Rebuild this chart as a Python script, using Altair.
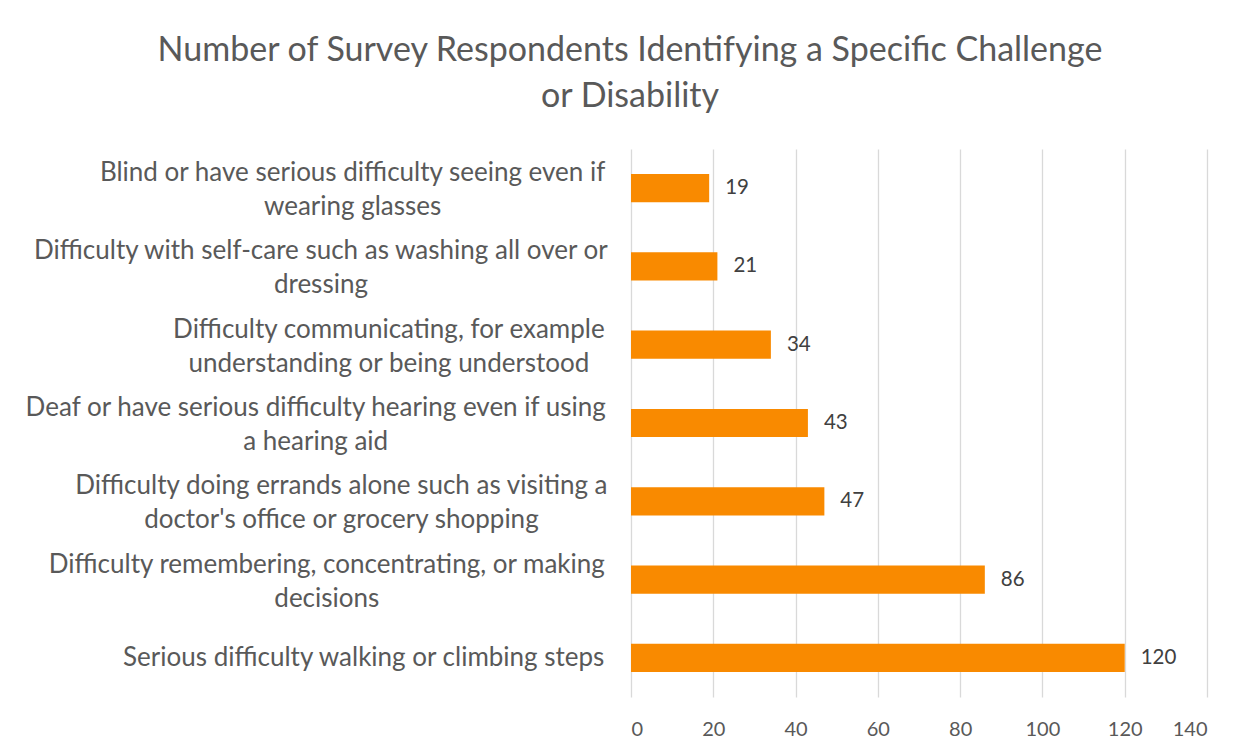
import json
import altair as alt
import pandas as pd

# ---- data ----
categories = [
    "Blind or have serious difficulty seeing even if|wearing glasses",
    "Difficulty with self-care such as washing all over or|dressing",
    "Difficulty communicating, for example|understanding or being understood",
    "Deaf or have serious difficulty hearing even if using|a hearing aid",
    "Difficulty doing errands alone such as visiting a|doctor's office or grocery shopping",
    "Difficulty remembering, concentrating, or making|decisions",
    "Serious difficulty walking or climbing steps",
]
values = [19, 21, 34, 43, 47, 86, 120]
x_ticks = [0, 20, 40, 60, 80, 100, 120, 140]
title_lines = ["Number of Survey Respondents Identifying a Specific Challenge", "or Disability"]

df = pd.DataFrame({"category": categories, "value": values})

# ---- layout / style ----
FONT = "Lato"
PAD_L, PAD_T, PAD_R, PAD_B = 623, 141, 37, 50
W, H = 576, 548
LABEL_SIZE = 26
LABEL_LINE = 34
LABEL_GAP = 27
TEXT_GREY = "#595959"


def est_width(s, size):
    w = 0.0
    for ch in s:
        if ch in "ijl'.,:;!|":
            w += 0.24
        elif ch in "ftr-":
            w += 0.34
        elif ch == " ":
            w += 0.2
        elif ch in "scz":
            w += 0.42
        elif ch == "m":
            w += 0.82
        elif ch == "w":
            w += 0.74
        elif ch in "I":
            w += 0.28
        elif ch.isupper():
            w += 0.64
        else:
            w += 0.53
    return w * size * 1.03


# labels are centred blocks that end just left of the axis
conds = []
for c in categories:
    longest = max(est_width(line, LABEL_SIZE) for line in c.split("|"))
    pad = round(LABEL_GAP + longest / 2, 1)
    conds.append({"test": f"datum.value === {json.dumps(c)}", "value": pad})
label_padding = {"condition": conds[:-1], "value": conds[-1]["value"]}

# centre two-line label blocks on their bar
label_offset = {
    "condition": {"test": "indexof(datum.value, '|') >= 0", "value": -LABEL_LINE / 2 + 2},
    "value": 0,
}

y_enc = alt.Y(
    "category:N",
    sort=categories,
    title=None,
    scale=alt.Scale(paddingInner=0.64, paddingOuter=0.32),
    axis=alt.Axis(
        domain=False,
        ticks=False,
        grid=False,
        labelAlign="center",
        labelBaseline="middle",
        labelExpr="split(datum.label, '|')",
        labelFont=FONT,
        labelFontSize=LABEL_SIZE,
        labelLineHeight=LABEL_LINE,
        labelColor=TEXT_GREY,
        labelLimit=900,
        labelOverlap=False,
        labelPadding=label_padding,
        labelOffset=label_offset,
    ),
)

x_enc = alt.X(
    "value:Q",
    title=None,
    scale=alt.Scale(domain=[0, 140], nice=False),
    axis=alt.Axis(
        values=x_ticks,
        domain=False,
        ticks=False,
        grid=True,
        gridColor="#D9D9D9",
        gridWidth=1.3,
        labelFont=FONT,
        labelFontSize=20,
        labelColor=TEXT_GREY,
        labelPadding=22,
    ),
)

base = alt.Chart(df).encode(y=y_enc, x=x_enc)

bars = base.mark_bar(color="#F98A00")
texts = base.mark_text(
    align="left", baseline="middle", dx=16, font=FONT, fontSize=20.5, color="#404040"
).encode(text="value:Q")

title_dx = (630 - 8) - (PAD_L + W / 2)

chart = (
    alt.layer(bars, texts)
    .properties(
        width=W,
        height=H,
        padding={"left": PAD_L, "top": PAD_T, "right": PAD_R, "bottom": PAD_B},
        autosize=alt.AutoSizeParams(type="none"),
        title=alt.TitleParams(
            text=title_lines,
            anchor="middle",
            dx=title_dx,
            font=FONT,
            fontSize=34,
            fontWeight="normal",
            color=TEXT_GREY,
            lineHeight=46,
            baseline="bottom",
            offset=1,
        ),
        background="white",
    )
    .configure_view(stroke=None)
)

chart.save("out.html", embed_options={"renderer": "svg", "actions": False})
